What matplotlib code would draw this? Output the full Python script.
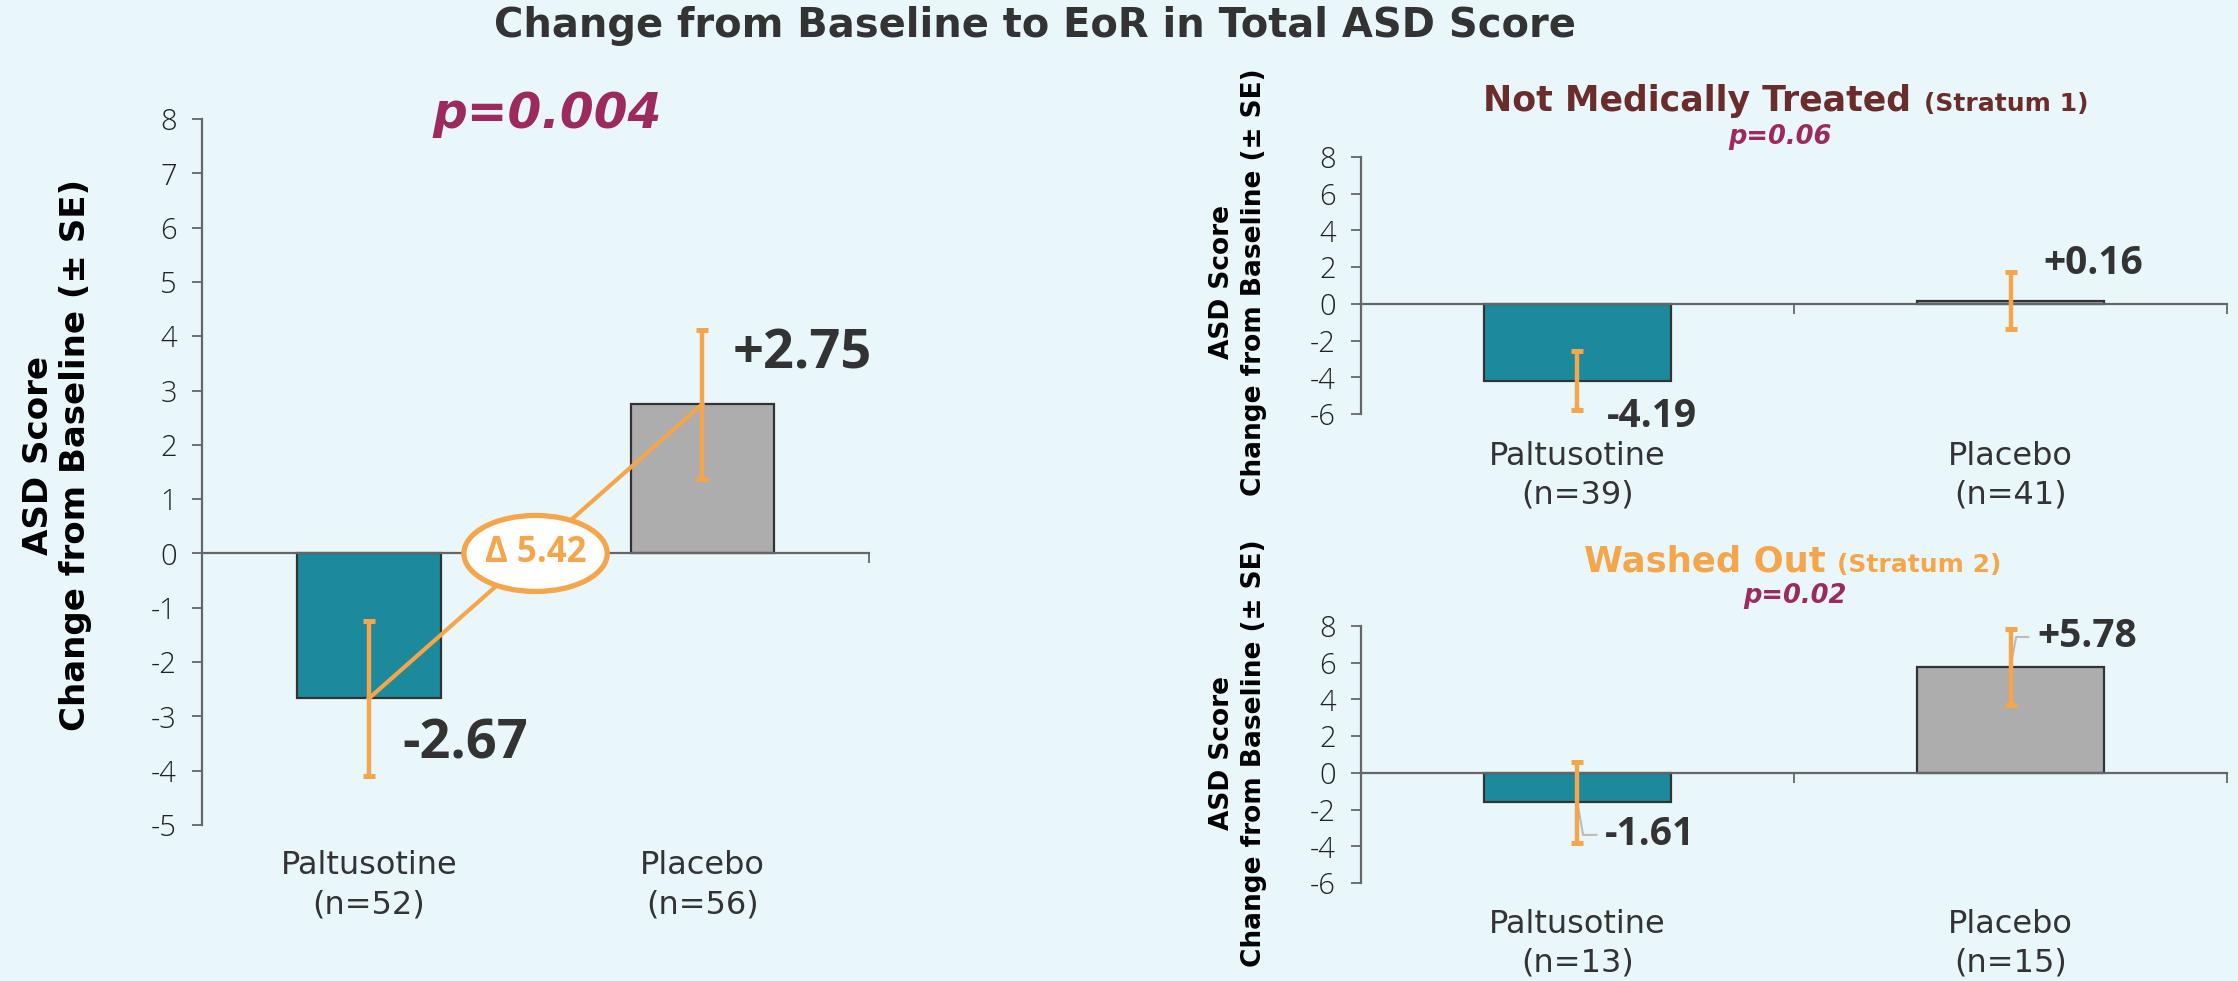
import numpy as np
import matplotlib.pyplot as plt
from matplotlib.patches import Ellipse

plt.rcParams["font.family"] = ["DejaVu Sans"]

# ---- colours ----
BG = "#E9F7FA"
TEAL = "#1C8A9C"
GREY = "#ADADAD"
ORANGE = "#F5A54A"
MAGENTA = "#9C2A5F"
BROWN = "#6B2C2C"
DARK = "#333333"
AXIS = "#666666"

# ---- data ----
groups = ["Paltusotine", "Placebo"]

all_n = ["(n=52)", "(n=56)"]
all_mean = [-2.67, 2.75]
all_se = [1.43, 1.37]
all_p = "p=0.004"

s1_n = ["(n=39)", "(n=41)"]
s1_mean = [-4.19, 0.16]
s1_se = [1.60, 1.55]
s1_p = "p=0.06"

s2_n = ["(n=13)", "(n=15)"]
s2_mean = [-1.61, 5.78]
s2_se = [2.20, 2.07]
s2_p = "p=0.02"

main_ticks = np.arange(-5, 9, 1)
strat_ticks = np.arange(-6, 9, 2)

TICKFONT = dict(family=["Open Sans", "DejaVu Sans"], weight="light")
VALFONT = dict(family=["Open Sans", "DejaVu Sans"], weight="bold")
YLABEL = "ASD Score\nChange from Baseline (± SE)"


def draw_panel(ax, means, ses, ns, ticks, val_pos, val_size, cat_y):
    """bars + error bars + value labels + category labels"""
    x = np.arange(len(groups))
    ax.set_facecolor(BG)
    ax.bar(x, means, width=0.43, color=[TEAL, GREY], edgecolor=DARK,
           linewidth=1.6, zorder=2)
    ax.errorbar(x, means, yerr=ses, fmt="none", ecolor=ORANGE,
                elinewidth=3.2, capsize=4.3, capthick=3.6, zorder=4)
    ax.set_xlim(-0.5, 1.5)
    ax.set_ylim(ticks[0], ticks[-1])
    ax.set_yticks(ticks)
    ax.set_yticklabels([str(t) for t in ticks], fontsize=21,
                       color="#222222", **TICKFONT)
    ax.set_xticks([-0.5, 0.5, 1.5])
    ax.set_xticklabels([])
    for s in ["top", "right"]:
        ax.spines[s].set_visible(False)
    ax.spines["bottom"].set_position(("data", 0))
    for s in ["left", "bottom"]:
        ax.spines[s].set_color(AXIS)
        ax.spines[s].set_linewidth(1.6)
    ax.tick_params(axis="both", direction="out", length=7.2, width=1.3,
                   color=AXIS, pad=11)
    for i in x:
        lx, ly = val_pos[i]
        ax.text(lx, ly, f"{means[i]:+.2f}", ha="left", va="center",
                fontsize=val_size, color=DARK, **VALFONT)
        ax.text(i, cat_y[0], groups[i], transform=ax.get_xaxis_transform(),
                ha="center", va="center", fontsize=23, color=DARK)
        ax.text(i, cat_y[1], ns[i], transform=ax.get_xaxis_transform(),
                ha="center", va="center", fontsize=23, color=DARK)


fig = plt.figure(figsize=(22.38, 9.81), dpi=100, facecolor=BG)

# ============================================================
# overall
# ============================================================
ax0 = fig.add_axes([0.0903, 0.1590, 0.2980, 0.7197])
draw_panel(ax0, all_mean, all_se, all_n, main_ticks,
           [(0.10, -3.52), (1.09, 3.66)], 39, (-0.057, -0.113))

# delta line between the two means
ax0.plot([0, 1], all_mean, color=ORANGE, lw=3.0, zorder=3)
ax0.add_patch(Ellipse((0.5, 0), width=0.43, height=1.40, facecolor="white",
                      edgecolor=ORANGE, linewidth=3.8, zorder=5))
ax0.text(0.5, 0, f"Δ {all_mean[1] - all_mean[0]:.2f}", ha="center",
         va="center", fontsize=25, color=ORANGE, zorder=6, **VALFONT)

fig.text(0.2444, 0.8838, all_p, ha="center", va="center", fontsize=35,
         color=MAGENTA, weight="bold", style="italic")
fig.text(0.0255, 0.536, YLABEL, rotation=90, ha="center", va="center",
         ma="center", fontsize=24.5, weight="bold", color="black",
         linespacing=1.15)

# ============================================================
# stratum 1
# ============================================================
ax1 = fig.add_axes([0.6081, 0.5780, 0.3870, 0.2620])
draw_panel(ax1, s1_mean, s1_se, s1_n, strat_ticks,
           [(0.068, -6.15), (1.076, 2.2)], 28, (-0.167, -0.315))

# ============================================================
# stratum 2
# ============================================================
s2_lab = [(0.064, -3.38), (1.061, 7.4)]
ax2 = fig.add_axes([0.6081, 0.0999, 0.3870, 0.2620])
draw_panel(ax2, s2_mean, s2_se, s2_n, strat_ticks, s2_lab, 28,
           (-0.163, -0.311))
# small leader lines from bars to labels
for i, (lx, ly) in enumerate(s2_lab):
    ax2.plot([i, i + 0.013, lx - 0.02], [s2_mean[i], ly, ly],
             color="#BBBBBB", lw=1.5, zorder=3)

for yc in (0.7125, 0.2324):
    fig.text(0.5532, yc, YLABEL, rotation=90, ha="center", va="center",
             ma="center", fontsize=19, weight="bold", color="black",
             linespacing=1.3)

# stratum titles
fig.text(1911 / 2238, 1 - 111 / 981, "Not Medically Treated", ha="right",
         va="baseline", fontsize=25, weight="bold", color=BROWN)
fig.text(1924 / 2238, 1 - 111 / 981, "(Stratum 1)", ha="left",
         va="baseline", fontsize=18, weight="bold", color=BROWN)
fig.text(1780 / 2238, 1 - 137 / 981, s1_p, ha="center", va="center",
         fontsize=18.5, weight="bold", style="italic", color=MAGENTA)

fig.text(1826 / 2238, 1 - 572 / 981, "Washed Out", ha="right",
         va="baseline", fontsize=25.5, weight="bold", color=ORANGE)
fig.text(1837 / 2238, 1 - 572 / 981, "(Stratum 2)", ha="left",
         va="baseline", fontsize=18, weight="bold", color=ORANGE)
fig.text(1795 / 2238, 1 - 596 / 981, s2_p, ha="center", va="center",
         fontsize=18.5, weight="bold", style="italic", color=MAGENTA)

# main title
fig.text(0.4624, 1 - 26 / 981,
         "Change from Baseline to EoR in Total ASD Score", ha="center",
         va="center", fontsize=28.8, weight="bold", color=DARK)

fig.savefig("out.png", dpi=100, facecolor=BG)
